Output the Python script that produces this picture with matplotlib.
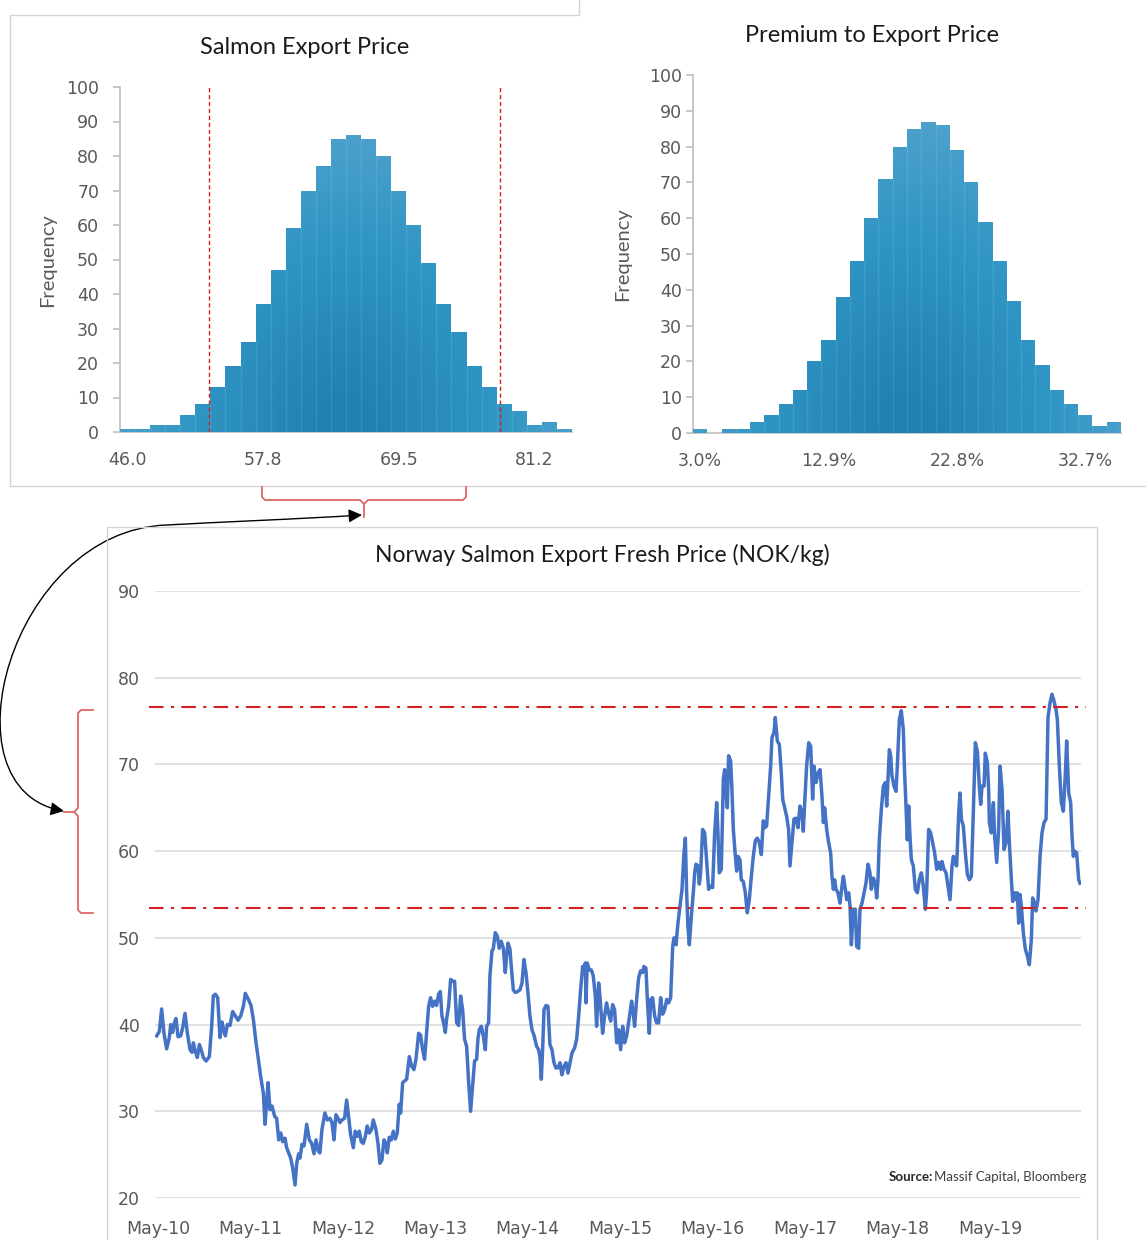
import numpy as np
import matplotlib
matplotlib.use("Agg")
import matplotlib.pyplot as plt
from matplotlib.path import Path
from matplotlib.patches import PathPatch, FancyArrowPatch
from matplotlib.colors import LinearSegmentedColormap

W, H = 1146, 1240

# histogram of simulated salmon export price (NOK/kg)
price_counts = [1, 1, 2, 2, 5, 8, 13, 19, 26, 37, 47, 59, 70, 77, 85,
                86, 85, 80, 70, 60, 49, 37, 29, 19, 13, 8, 6, 2, 3, 1]
price_labels = ["46.0", "57.8", "69.5", "81.2"]
price_label_bins = [0, 9, 18, 27]
price_cutoffs = [53.05, 78.2]

# histogram of simulated premium to export price
premium_counts = [1, 0, 1, 1, 3, 5, 8, 12, 20, 26, 38, 48, 60, 71, 80,
                  85, 87, 86, 79, 70, 59, 48, 37, 26, 19, 12, 8, 5, 2, 3]
premium_labels = ["3.0%", "12.9%", "22.8%", "32.7%"]
premium_label_bins = [0, 9, 18, 27]

# weekly Norway salmon export fresh price (NOK/kg)
price_t = [
    2010.319, 2010.348, 2010.373, 2010.398, 2010.427, 2010.456, 2010.471, 2010.492, 2010.507, 2010.528,
    2010.550, 2010.579, 2010.600, 2010.626, 2010.651, 2010.680, 2010.701, 2010.716, 2010.737, 2010.759,
    2010.781, 2010.806, 2010.824, 2010.853, 2010.889, 2010.914, 2010.932, 2010.954, 2010.979, 2011.004,
    2011.026, 2011.048, 2011.062, 2011.084, 2011.112, 2011.141, 2011.170, 2011.199, 2011.228, 2011.257,
    2011.278, 2011.311, 2011.340, 2011.365, 2011.394, 2011.419, 2011.444, 2011.473, 2011.491, 2011.509,
    2011.524, 2011.545, 2011.567, 2011.596, 2011.617, 2011.639, 2011.661, 2011.682, 2011.707, 2011.725,
    2011.747, 2011.769, 2011.790, 2011.816, 2011.834, 2011.855, 2011.870, 2011.891, 2011.913, 2011.942,
    2011.971, 2011.996, 2012.021, 2012.043, 2012.068,
    2012.085, 2012.107, 2012.139, 2012.165, 2012.193, 2012.215, 2012.237, 2012.258, 2012.280, 2012.302,
    2012.323, 2012.352, 2012.374, 2012.395, 2012.417, 2012.446, 2012.467, 2012.489, 2012.511, 2012.532,
    2012.554, 2012.576, 2012.597, 2012.619, 2012.644, 2012.662, 2012.691, 2012.713, 2012.734, 2012.756,
    2012.778, 2012.799, 2012.814, 2012.835, 2012.857, 2012.879, 2012.900, 2012.922, 2012.943, 2012.958,
    2012.980, 2013.001, 2013.023, 2013.052, 2013.077, 2013.102, 2013.124, 2013.153, 2013.174, 2013.196,
    2013.217, 2013.239, 2013.261, 2013.282, 2013.304, 2013.326, 2013.347, 2013.369, 2013.387, 2013.405,
    2013.427, 2013.441, 2013.455, 2013.477, 2013.499, 2013.520, 2013.542, 2013.564, 2013.585, 2013.607,
    2013.629, 2013.650, 2013.672, 2013.693, 2013.715, 2013.737, 2013.758, 2013.780, 2013.794,
    2013.809, 2013.831, 2013.852, 2013.874, 2013.888, 2013.910, 2013.924, 2013.946, 2013.960, 2013.982,
    2014.004, 2014.025, 2014.047, 2014.069, 2014.090, 2014.105, 2014.119, 2014.141, 2014.155, 2014.177,
    2014.198, 2014.220, 2014.249, 2014.271, 2014.292, 2014.314, 2014.335, 2014.357, 2014.379, 2014.400,
    2014.429, 2014.451, 2014.465, 2014.480, 2014.494, 2014.509, 2014.530, 2014.552, 2014.573, 2014.595,
    2014.617, 2014.638, 2014.660, 2014.682, 2014.703, 2014.725, 2014.747, 2014.768, 2014.790, 2014.811,
    2014.840, 2014.862, 2014.884, 2014.905, 2014.927, 2014.941, 2014.956, 2014.963, 2014.977, 2014.999,
    2015.021, 2015.042, 2015.064, 2015.078, 2015.100, 2015.114, 2015.143, 2015.165, 2015.186, 2015.208,
    2015.230, 2015.251, 2015.273, 2015.295, 2015.316, 2015.338, 2015.360, 2015.381, 2015.403, 2015.424,
    2015.457, 2015.475, 2015.489, 2015.511, 2015.533, 2015.554, 2015.576, 2015.590, 2015.612, 2015.627,
    2015.648, 2015.663, 2015.684, 2015.706, 2015.727, 2015.749, 2015.771, 2015.792, 2015.814, 2015.836,
    2015.857, 2015.879, 2015.901, 2015.915, 2015.937, 2015.958, 2015.980, 2016.002, 2016.023, 2016.038,
    2016.052, 2016.066, 2016.081, 2016.103, 2016.124, 2016.139, 2016.153, 2016.175, 2016.189, 2016.203,
    2016.225, 2016.247, 2016.268, 2016.290, 2016.312, 2016.333, 2016.355, 2016.377, 2016.391, 2016.405,
    2016.427, 2016.449, 2016.463, 2016.478, 2016.492, 2016.506, 2016.528, 2016.542, 2016.557, 2016.579,
    2016.593, 2016.607, 2016.629, 2016.643, 2016.665, 2016.687, 2016.708, 2016.730, 2016.752, 2016.773,
    2016.795, 2016.817, 2016.838, 2016.860, 2016.881, 2016.896, 2016.917, 2016.939, 2016.961, 2016.975,
    2016.997, 2017.011, 2017.033, 2017.055, 2017.076, 2017.091, 2017.112, 2017.134, 2017.155,
    2017.170, 2017.192, 2017.213, 2017.235, 2017.257, 2017.278, 2017.300, 2017.314, 2017.329, 2017.350,
    2017.372, 2017.394, 2017.415, 2017.430, 2017.451, 2017.473, 2017.495, 2017.516, 2017.531, 2017.545,
    2017.567, 2017.588, 2017.610, 2017.624, 2017.639, 2017.653, 2017.668, 2017.689, 2017.711, 2017.733,
    2017.747, 2017.769, 2017.783, 2017.805, 2017.819, 2017.834, 2017.855, 2017.877, 2017.891, 2017.913,
    2017.927, 2017.949, 2017.971, 2017.992, 2018.014, 2018.035, 2018.050, 2018.072, 2018.093, 2018.108,
    2018.122, 2018.136, 2018.158, 2018.180, 2018.201, 2018.216, 2018.230, 2018.245, 2018.259, 2018.273,
    2018.295, 2018.317, 2018.331, 2018.353, 2018.374, 2018.396, 2018.410, 2018.425, 2018.439, 2018.454,
    2018.468, 2018.483, 2018.504, 2018.526, 2018.548, 2018.569, 2018.591, 2018.612, 2018.634, 2018.648,
    2018.670, 2018.692, 2018.713, 2018.735, 2018.757, 2018.778, 2018.800, 2018.814, 2018.836, 2018.858,
    2018.879, 2018.901,
    2018.923, 2018.937, 2018.959, 2018.973, 2018.995, 2019.009, 2019.024, 2019.045, 2019.067, 2019.089,
    2019.110, 2019.132, 2019.153, 2019.175, 2019.197, 2019.218, 2019.233, 2019.247, 2019.269, 2019.283,
    2019.305, 2019.319, 2019.327, 2019.348, 2019.370, 2019.384, 2019.406, 2019.427, 2019.442, 2019.464,
    2019.485, 2019.507, 2019.528, 2019.543, 2019.565, 2019.579, 2019.601, 2019.615, 2019.629, 2019.644,
    2019.658, 2019.673, 2019.694, 2019.716, 2019.738, 2019.759, 2019.781, 2019.795, 2019.817, 2019.831,
    2019.853, 2019.875, 2019.896, 2019.918, 2019.940, 2019.961, 2019.983, 2020.004, 2020.026, 2020.048,
    2020.062, 2020.084, 2020.105, 2020.127, 2020.149, 2020.163, 2020.185, 2020.206, 2020.221, 2020.235,
    2020.250, 2020.271, 2020.293, 2020.307,
]
price_v = [
    38.7, 39.2, 41.8, 39.0, 37.2, 38.5, 40.0, 39.1, 40.1, 40.7,
    38.6, 38.7, 39.6, 41.3, 39.0, 37.1, 36.8, 37.9, 36.9, 36.2,
    37.7, 36.9, 36.2, 35.8, 36.3, 39.8, 43.3, 43.5, 43.1, 38.5,
    40.3, 39.2, 38.7, 40.0, 39.9, 41.5, 41.0, 40.5, 41.0, 42.1,
    43.6, 42.9, 42.2, 40.6, 37.9, 36.0, 34.0, 32.1, 28.5, 31.0,
    33.3, 30.2, 30.6, 29.4, 29.2, 26.7, 27.5, 26.5, 26.9, 25.8,
    25.2, 24.6, 23.5, 21.5, 24.0, 25.1, 24.6, 26.2, 26.0, 28.5,
    26.7, 26.3, 25.1, 26.7, 25.4,
    25.2, 27.9, 29.8, 29.0, 29.2, 28.7, 26.7, 29.6, 29.2, 28.7,
    29.0, 29.2, 31.3, 29.4, 27.3, 25.8, 27.7, 27.1, 27.7, 26.5,
    26.3, 27.1, 28.3, 27.5, 27.9, 29.0, 27.9, 26.3, 24.0, 24.4,
    26.7, 26.3, 25.2, 27.0, 26.7, 27.7, 26.8, 27.5, 30.8, 29.8,
    33.3, 33.5, 33.7, 36.3, 35.2, 34.8, 36.0, 39.0, 38.8, 37.1,
    36.0, 39.0, 42.1, 43.1, 42.1, 42.7, 42.2, 43.5, 43.8, 41.0,
    40.0, 39.1, 40.6, 42.1, 45.2, 45.0, 45.0, 40.2, 39.9, 43.3,
    41.7, 38.3, 37.5, 33.5, 30.0, 32.9, 35.8, 36.0, 38.3,
    39.4, 39.8, 38.7, 37.1, 39.8, 40.2, 45.6, 48.5, 48.7, 50.6,
    50.2, 48.8, 49.6, 48.8, 46.0, 47.9, 49.4, 48.7, 46.7, 44.0,
    43.7, 43.8, 44.0, 44.8, 47.5, 46.0, 43.7, 41.0, 39.4, 38.8,
    37.5, 37.1, 36.3, 33.7, 37.1, 41.7, 42.2, 42.1, 37.7, 37.1,
    35.6, 35.0, 35.0, 35.6, 34.2, 35.2, 35.6, 34.4, 35.6, 36.7,
    37.3, 38.3, 41.0, 44.0, 46.7, 46.0, 47.1, 42.5, 47.1, 46.3,
    46.3, 45.6, 43.3, 39.8, 44.8, 43.3, 39.0, 41.0, 42.5, 41.3,
    40.4, 42.3, 41.7, 37.9, 39.4, 37.1, 39.8, 37.9, 38.7, 40.2,
    42.7, 41.3, 39.8, 42.9, 45.4, 46.2, 46.0, 46.7, 46.5, 42.9,
    39.0, 42.9, 43.1, 41.0, 40.2, 40.2, 43.1, 41.2, 41.7, 42.9,
    42.5, 43.1, 49.0, 50.0, 49.2, 51.7, 53.7, 55.6, 59.8, 61.5,
    55.2, 51.3, 49.2, 52.5, 55.2, 57.5, 58.5, 58.3, 56.2, 57.5,
    62.5, 62.1, 59.0, 55.6, 56.0, 55.8, 62.1, 65.6, 62.1, 57.5,
    57.9, 68.3, 69.4, 66.7, 65.0, 71.0, 70.4, 67.1, 62.5, 59.4,
    57.7, 59.4, 59.0, 56.7, 56.5, 55.2, 52.9, 54.4, 57.1, 59.4,
    61.2, 61.5, 61.0, 59.6, 63.5, 62.7, 62.9, 66.3, 69.8, 73.1,
    73.7, 75.4, 72.7, 72.3, 69.0, 66.0, 65.0, 64.0, 62.5,
    58.3, 61.0, 63.7, 63.8, 62.7, 65.2, 64.4, 62.3, 65.6, 69.8,
    72.5, 72.1, 66.0, 69.8, 67.9, 69.0, 69.4, 66.3, 63.3, 65.0,
    62.5, 61.0, 59.8, 57.1, 55.6, 56.7, 55.6, 55.2, 54.0, 56.0,
    57.1, 55.6, 54.4, 55.2, 53.7, 49.2, 53.3, 53.3, 49.0, 48.8,
    53.3, 54.0, 55.2, 56.3, 58.5, 57.5, 55.6, 56.9, 56.3, 54.6,
    56.7, 61.3, 64.8, 67.5, 67.9, 65.2, 68.3, 71.7, 71.0, 68.7,
    67.5, 66.9, 69.8, 75.2, 76.2, 74.0, 69.0, 65.2, 61.3, 65.2,
    61.7, 59.0, 58.3, 55.6, 55.2, 56.7, 57.5, 56.0, 53.3, 55.2,
    62.5, 62.1, 61.0, 59.8, 57.9, 58.7, 57.9, 58.8, 57.9, 57.5,
    56.0, 54.4,
    58.3, 59.4, 58.5, 58.3, 64.4, 66.7, 63.7, 62.9, 59.8, 57.3,
    56.7, 57.1, 64.4, 72.5, 71.5, 67.5, 65.4, 67.5, 67.5, 71.3,
    70.2, 67.1, 63.3, 62.1, 65.6, 61.7, 58.7, 62.5, 69.8, 67.1,
    60.2, 61.0, 64.6, 61.0, 56.7, 54.2, 55.2, 54.4, 55.2, 51.7,
    55.0, 53.7, 50.6, 48.7, 47.9, 46.9, 49.8, 54.6, 54.0, 53.1,
    54.4, 59.4, 62.1, 63.3, 63.7, 75.4, 77.1, 78.1, 77.3, 76.3,
    75.2, 69.8, 65.6, 64.6, 69.0, 72.7, 66.7, 65.6, 61.7, 59.4,
    60.0, 59.8, 56.7, 56.3,
]
band_upper = 76.6
band_lower = 53.4
year_ticks = [2010.333 + k for k in range(10)]
year_labels = ["May-10", "May-11", "May-12", "May-13", "May-14",
               "May-15", "May-16", "May-17", "May-18", "May-19"]

GRAY = "#bfbfbf"
TXT = "#595959"
TITLE_FONT = ["Lato", "DejaVu Sans"]
TICK_FONT = ["DejaVu Sans"]

fig = plt.figure(figsize=(W / 100, H / 100), dpi=100)


def rect(x0, y0, x1, y1):
    return [x0 / W, 1 - y1 / H, (x1 - x0) / W, (y1 - y0) / H]


# overlay for frames, braces and arrow (figure pixel coordinates)
ov = fig.add_axes([0, 0, 1, 1])
ov.set_xlim(0, W)
ov.set_ylim(H, 0)
ov.axis("off")
ov.patch.set_alpha(0)
frame_kw = dict(color="#d4d4d4", lw=1.0)
ov.plot([10, 10, 579, 579], [486, 15, 15, 0], **frame_kw)
ov.plot([10, 1146], [486, 486], **frame_kw)
ov.plot([107, 107, 1097, 1097], [1240, 527, 527, 1240], **frame_kw)

brace_kw = dict(color="#e06666", lw=1.3, solid_joinstyle="round")
ov.plot([262, 262, 265, 360, 364, 364], [487, 497, 500, 500, 504, 517], **brace_kw)
ov.plot([364, 368, 463, 466, 466], [504, 500, 500, 497, 487], **brace_kw)
ov.plot([93, 81, 78, 78, 74, 64], [710, 710, 713, 808, 812, 812], **brace_kw)
ov.plot([74, 78, 78, 81, 93], [812, 816, 910, 913, 913], **brace_kw)

arrow_path = Path([(362, 515), (300, 519), (220, 522), (167, 525),
                   (10, 530), (-60, 790), (64, 811)],
                  [Path.MOVETO, Path.CURVE4, Path.CURVE4, Path.CURVE4,
                   Path.CURVE4, Path.CURVE4, Path.CURVE4])
ov.add_patch(FancyArrowPatch(path=arrow_path, arrowstyle="<|-|>", mutation_scale=20,
                             color="black", lw=1.0, shrinkA=0, shrinkB=0,
                             transform=ov.transData, clip_on=False))

cmap = LinearSegmentedColormap.from_list("bars", ["#2181b2", "#2f95c4", "#58a6cf"])


def histogram(box, counts, labels, label_bins, title, title_xy, ylabel_xy, ypad):
    ax = fig.add_axes(rect(*box))
    n = len(counts)
    idx = np.arange(n)
    ax.bar(idx, counts, width=1.0, color="#2f93c2", linewidth=0, zorder=2)
    verts = [(-0.5, 0)]
    for i, c in enumerate(counts):
        verts += [(i - 0.5, c), (i + 0.5, c)]
    verts += [(n - 0.5, 0), (-0.5, 0)]
    clip = PathPatch(Path(verts), transform=ax.transData, facecolor="none", edgecolor="none")
    ax.add_patch(clip)
    gx, gy = np.meshgrid(np.linspace(-1, 1, 200), np.linspace(0, 1, 200))
    grad = np.sqrt((gx * 0.9) ** 2 + (gy * 1.1) ** 2)
    im = ax.imshow(grad, extent=[-0.5, n - 0.5, 0, 100], origin="lower", aspect="auto",
                   cmap=cmap, vmin=0.1, vmax=1.1, zorder=3)
    im.set_clip_path(clip)
    for i in range(1, n):
        ax.plot([i - 0.5, i - 0.5], [0, min(counts[i - 1], counts[i])],
                color="white", alpha=0.10, lw=1, zorder=4)
    ax.set_xlim(-0.5, n - 0.5)
    ax.set_ylim(0, 100)
    for s in ("top", "right"):
        ax.spines[s].set_visible(False)
    for s in ("left", "bottom"):
        ax.spines[s].set_color(GRAY)
        ax.spines[s].set_linewidth(1.2)
    ax.set_yticks(range(0, 101, 10))
    ax.tick_params(axis="y", length=5, width=1.2, color=GRAY, pad=ypad, labelsize=12.5, labelcolor=TXT)
    ax.set_xticks(label_bins)
    ax.set_xticklabels(labels)
    ax.tick_params(axis="x", length=0, pad=14, labelsize=12.5, labelcolor=TXT)
    for lab in ax.get_xticklabels() + ax.get_yticklabels():
        lab.set_family(TICK_FONT)
    fig.text(title_xy[0] / W, 1 - title_xy[1] / H, title, ha="center", va="center",
             fontsize=17, color="#1a1a1a", family=TITLE_FONT)
    fig.text(ylabel_xy[0] / W, 1 - ylabel_xy[1] / H, "Frequency", ha="center", va="center",
             rotation=90, fontsize=14.5, color=TXT, family=TITLE_FONT)
    return ax


ax1 = histogram((120, 87, 572, 432), price_counts, price_labels, price_label_bins,
                "Salmon Export Price", (305, 47), (48, 260), 10)
bin_w = (float(price_labels[-1]) - float(price_labels[0])) / (price_label_bins[-1] - price_label_bins[0])
for c in price_cutoffs:
    ax1.axvline((c - float(price_labels[0])) / bin_w, color="#cc2222", lw=1.0,
                dashes=(3, 2), zorder=5)

ax2 = histogram((693, 75, 1121, 433), premium_counts, premium_labels, premium_label_bins,
                "Premium to Export Price", (872, 35), (623, 254), 3)

# price history
ax3 = fig.add_axes(rect(155, 591, 1081, 1198))
ax3.plot(price_t, price_v, color="#4472c4", lw=2.5, zorder=3, solid_joinstyle="round")
ax3.set_xlim(2010.301, 2020.318)
ax3.set_ylim(20, 90)
ax3.set_yticks(range(20, 91, 10))
ax3.grid(axis="y", color="#d9d9d9", lw=1.1)
ax3.set_axisbelow(True)
for s in ax3.spines.values():
    s.set_visible(False)
ax3.set_xticks(year_ticks)
ax3.set_xticklabels(year_labels)
ax3.tick_params(axis="both", length=0, labelsize=12.5, labelcolor=TXT)
ax3.tick_params(axis="x", pad=16)
ax3.tick_params(axis="y", pad=11)
for lab in ax3.get_xticklabels() + ax3.get_yticklabels():
    lab.set_family(TICK_FONT)
for b in (band_upper, band_lower):
    ax3.axhline(b, xmin=-0.006, xmax=1.005, color="#d42020", lw=1.5,
                dashes=(7, 3.5, 1.5, 3.5), clip_on=False, zorder=4)

fig.text(602 / W, 1 - 555 / H, "Norway Salmon Export Fresh Price (NOK/kg)", ha="center",
         va="center", fontsize=16.5, color="#1a1a1a", family=TITLE_FONT)

src = fig.text(1087 / W, 1 - 1177 / H, "Massif Capital, Bloomberg", ha="right", va="center",
               fontsize=9.5, color="#404040", family=TITLE_FONT)
fig.canvas.draw()
bb = src.get_window_extent()
fig.text(bb.x0 / W - 0.001, 1 - 1177 / H, "Source:", ha="right", va="center",
         fontsize=9.5, color="#262626", weight="bold", family=TITLE_FONT)

fig.savefig("out.png", dpi=100)
